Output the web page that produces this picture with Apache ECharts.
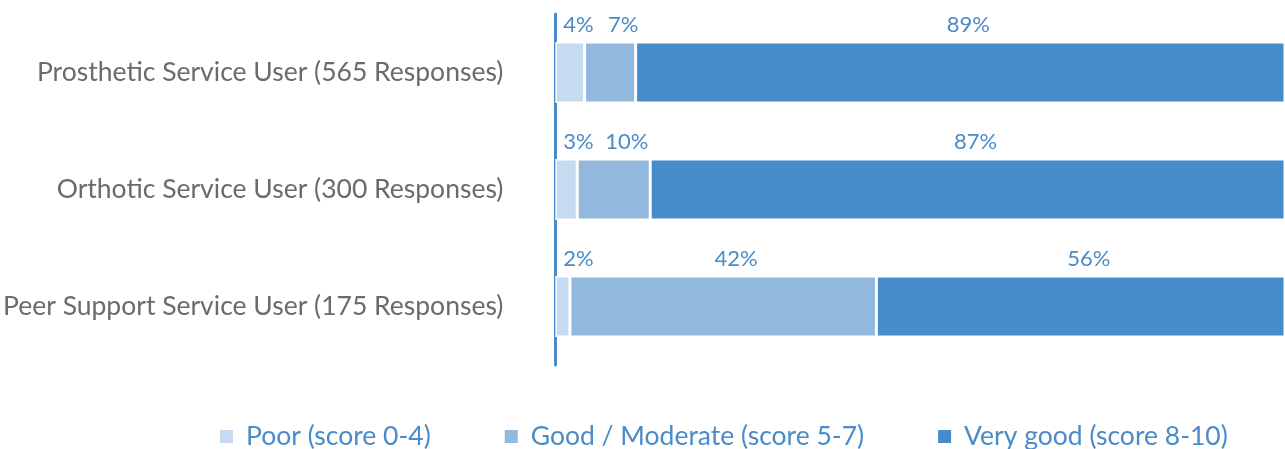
<!DOCTYPE html>
<html><head><meta charset="utf-8">
<script src="https://cdn.jsdelivr.net/npm/echarts@6/dist/echarts.min.js"></script>
<style>html,body{margin:0;padding:0;background:#fff}#c{width:1285px;height:449px}</style>
</head><body><div id="c"></div>
<script>
const categories = ["Prosthetic Service User (565 Responses)", "Orthotic Service User (300 Responses)", "Peer Support Service User (175 Responses)"];
const seriesNames = ["Poor (score 0-4)", "Good / Moderate (score 5-7)", "Very good (score 8-10)"];
const poor = [4, 3, 2];
const good = [7, 10, 42];
const veryGood = [89, 87, 56];
const colors = ["#c6dbef", "#93b8de", "#468bca"];

const chart = echarts.init(document.getElementById('c'), null, {renderer: 'canvas'});
const fontFam = "Lato, 'Open Sans', sans-serif";
const labelBase = {show: true, formatter: '{c}%', color: '#4a8bc8', fontSize: 22, fontFamily: fontFam};
const mk = (name, data, i, label) => ({
  name, type: 'bar', stack: 'total', data, barWidth: '52%',
  itemStyle: {color: colors[i], borderColor: '#fff', borderWidth: 1.5},
  label: Object.assign({}, labelBase, label),
  emphasis: {disabled: true}
});
chart.setOption({
  animation: false,
  grid: {left: 555, right: 0, top: 14, bottom: 84, containLabel: false},
  legend: {
    top: 423, left: 218, padding: 0, itemWidth: 15, itemHeight: 15, itemGap: 72,
    icon: 'rect',
    textStyle: {color: '#4a8bc8', fontSize: 26.5, fontFamily: fontFam, padding: [0, 0, 0, 7]},
    data: seriesNames
  },
  xAxis: {type: 'value', min: 0, max: 100, show: false},
  yAxis: {
    type: 'category', data: categories, inverse: true,
    axisLine: {show: true, lineStyle: {color: '#4a8bc8', width: 3}},
    axisTick: {show: false},
    axisLabel: {color: '#6b6b6b', fontSize: 26.5, margin: 52, fontFamily: fontFam}
  },
  series: [
    mk(seriesNames[0], poor, 0, {position: [8, -6], align: 'left', verticalAlign: 'bottom'}),
    mk(seriesNames[1], good, 1, {position: 'top', distance: 6, offset: [13, 0]}),
    mk(seriesNames[2], veryGood, 2, {position: 'top', distance: 6, offset: [8, 0]})
  ]
});
</script></body></html>
